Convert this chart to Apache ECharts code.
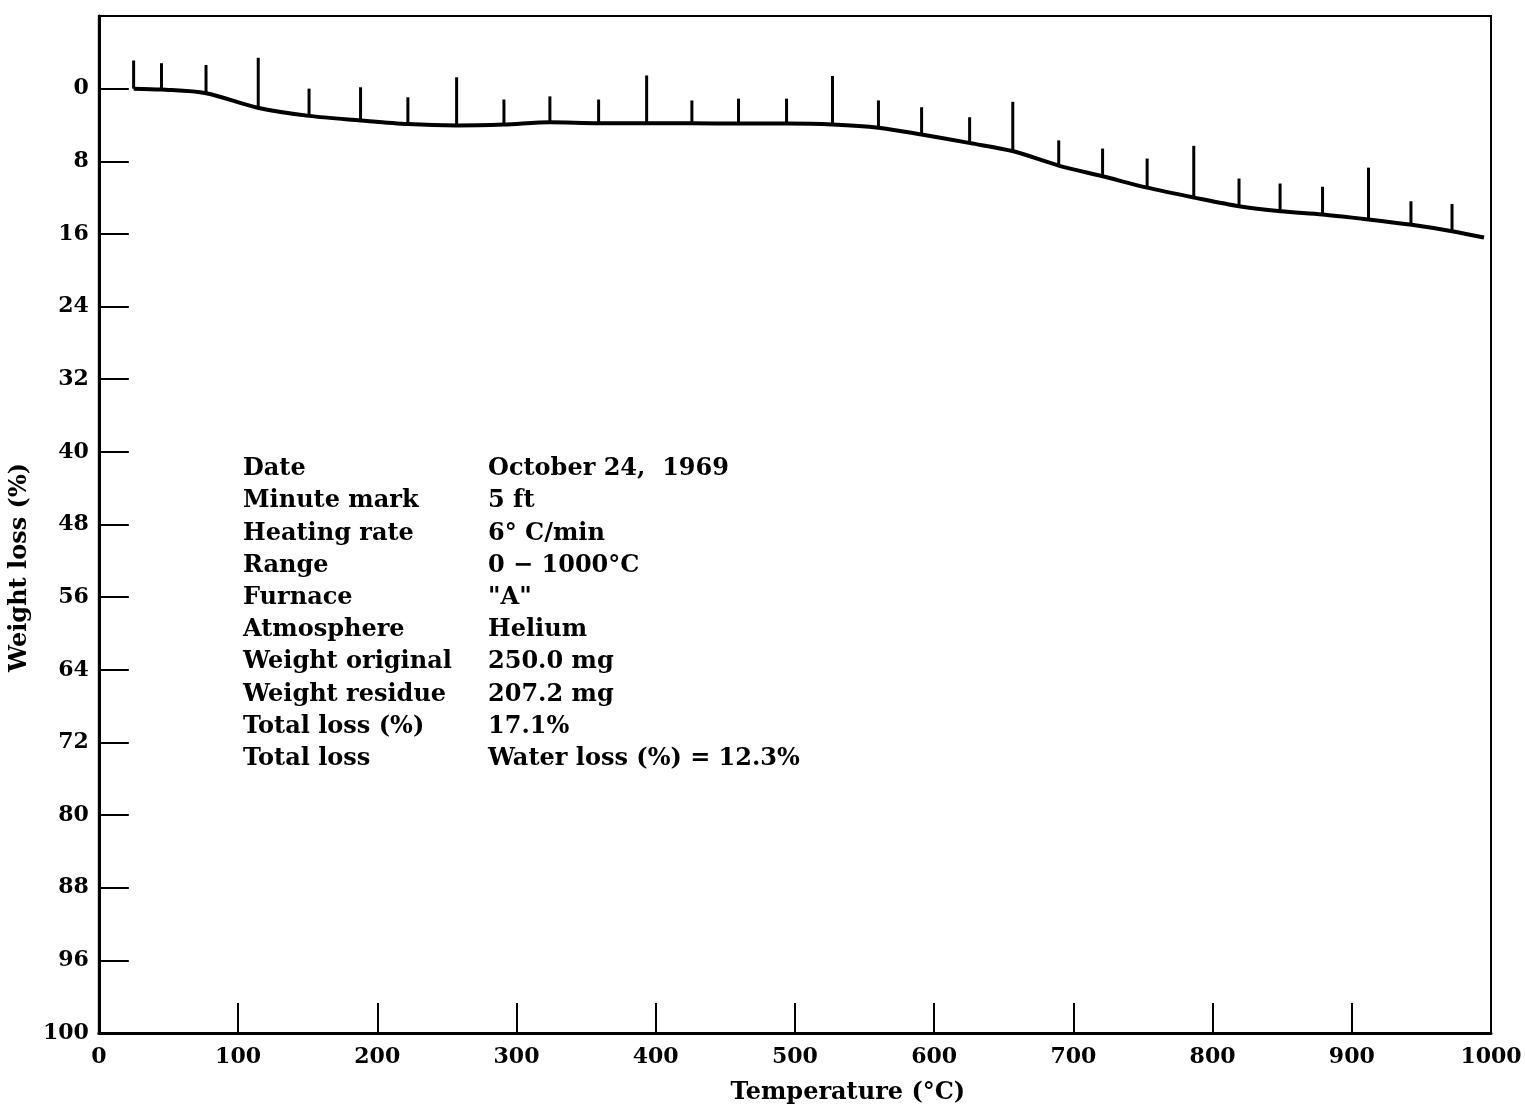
<!DOCTYPE html>
<html>
<head>
<meta charset="utf-8">
<script src="https://cdn.jsdelivr.net/npm/echarts@6/dist/echarts.min.js"></script>
<style>html,body{margin:0;padding:0;background:#fff;}#c{width:1525px;height:1110px;}</style>
</head>
<body>
<div id="c"></div>
<script>
// Weight-loss curve (temperature °C, weight loss %)
const curveTemp = [25, 45, 77, 114, 151, 188, 222, 257, 291, 324, 359, 394, 426, 460, 494, 527, 560, 591, 626, 657, 690, 721, 753, 787, 819, 849, 879, 912, 943, 972, 995];
const curveLoss = [0, 0.1, 0.5, 2.1, 3.0, 3.5, 3.9, 4.05, 3.95, 3.7, 3.8, 3.8, 3.8, 3.85, 3.85, 3.95, 4.3, 5.05, 6.0, 6.9, 8.5, 9.65, 10.9, 12.0, 12.95, 13.5, 13.85, 14.4, 15.0, 15.7, 16.4];
// Minute marks: temperature, base on curve, tip value
const markTemp = [25, 45, 77, 114.5, 151, 188, 222, 257, 291, 324, 359, 393.5, 426, 459.5, 494, 527, 560, 591, 625.5, 656.5, 689.5, 721, 753, 786.5, 819, 848.5, 879, 912, 942.5, 972];
const markBase = [0, 0.1, 0.5, 2.1, 3.0, 3.5, 3.9, 4.05, 3.95, 3.7, 3.8, 3.8, 3.8, 3.85, 3.85, 3.95, 4.3, 5.05, 6.0, 6.9, 8.5, 9.65, 10.9, 12.0, 12.95, 13.5, 13.85, 14.4, 15.0, 15.7];
const markTip  = [-3.1, -2.8, -2.6, -3.4, 0, -0.15, 0.95, -1.25, 1.2, 0.85, 1.2, -1.45, 1.3, 1.1, 1.1, -1.4, 1.3, 2.05, 3.15, 1.45, 5.7, 6.6, 7.7, 6.3, 9.9, 10.45, 10.8, 8.7, 12.4, 12.7];
// Axis ticks
const yTicks = [0, 8, 16, 24, 32, 40, 48, 56, 64, 72, 80, 88, 96];
const yBottomLabel = '100';
const xTicks = [100, 200, 300, 400, 500, 600, 700, 800, 900];
const xLabels = [0, 100, 200, 300, 400, 500, 600, 700, 800, 900, 1000];
// Info block
const infoKeys = ['Date', 'Minute mark', 'Heating rate', 'Range', 'Furnace', 'Atmosphere', 'Weight original', 'Weight residue', 'Total loss (%)', 'Total loss'];
const infoVals = ['October 24,  1969', '5 ft', '6° C/min', '0 \u2212 1000°C', '"A"', 'Helium', '250.0 mg', '207.2 mg', '17.1%', 'Water loss (%) = 12.3%'];

const FONT = 'DejaVu Serif';
const chart = echarts.init(document.getElementById('c'), null, {renderer: 'canvas'});

const yMin = -8, yMax = 104;
const graphics = [];
infoKeys.forEach((k, i) => {
  graphics.push({type: 'text', left: 243, top: 457 + i * 32.2, style: {text: k, font: 'bold 24px "' + FONT + '"', fill: '#000'}, silent: true});
  graphics.push({type: 'text', left: 488, top: 457 + i * 32.2, style: {text: infoVals[i], font: 'bold 24px "' + FONT + '"', fill: '#000'}, silent: true});
});

chart.setOption({
  animation: false,
  backgroundColor: '#fff',
  grid: {left: 97, right: 34, top: 16, bottom: 76, show: true, borderColor: '#000', borderWidth: 2, containLabel: false},
  xAxis: {
    type: 'value', min: 0, max: 1000, interval: 100,
    name: 'Temperature (°C)', nameLocation: 'middle', nameGap: 48,
    nameTextStyle: {fontFamily: FONT, fontSize: 24, fontWeight: 'bold', color: '#000', padding: [0, 0, 0, 106]},
    axisLine: {show: true, onZero: false, lineStyle: {color: '#000', width: 3}},
    axisTick: {show: true, inside: true, length: 30, customValues: xTicks, lineStyle: {color: '#000', width: 2}},
    axisLabel: {customValues: xLabels, formatter: v => String(v), fontFamily: FONT, fontSize: 22, fontWeight: 'bold', color: '#000', margin: 13},
    splitLine: {show: false}
  },
  yAxis: {
    type: 'value', inverse: true, min: yMin, max: yMax, interval: 8,
    name: 'Weight loss (%)', nameLocation: 'middle', nameGap: 56,
    nameTextStyle: {fontFamily: FONT, fontSize: 24, fontWeight: 'bold', color: '#000', padding: [0, 86, 0, 0]},
    axisLine: {show: true, onZero: false, lineStyle: {color: '#000', width: 3}},
    axisTick: {show: true, inside: true, length: 30, customValues: yTicks, lineStyle: {color: '#000', width: 2}},
    axisLabel: {customValues: yTicks.concat([yMax]), formatter: v => v === yMax ? yBottomLabel : String(v), fontFamily: FONT, fontSize: 22, fontWeight: 'bold', color: '#000', margin: 10},
    splitLine: {show: false}
  },
  series: [
    {
      type: 'line', data: curveTemp.map((t, i) => [t, curveLoss[i]]),
      showSymbol: false, smooth: 0.3, silent: true,
      lineStyle: {color: '#000', width: 4}
    },
    {
      type: 'custom', silent: true,
      data: markTemp.map((t, i) => [t, markBase[i], markTip[i]]),
      renderItem: function (params, api) {
        const p0 = api.coord([api.value(0), api.value(1)]);
        const p1 = api.coord([api.value(0), api.value(2)]);
        return {type: 'line', shape: {x1: p0[0], y1: p0[1], x2: p1[0], y2: p1[1]}, style: {stroke: '#000', lineWidth: 3}};
      }
    }
  ],
  graphic: graphics
});
</script>
</body>
</html>
